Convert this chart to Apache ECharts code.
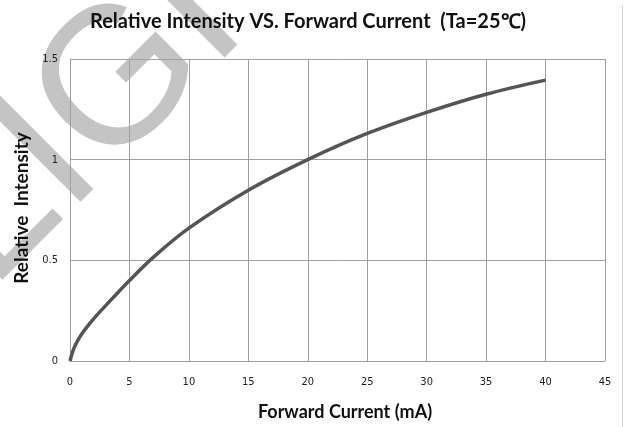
<!DOCTYPE html>
<html>
<head>
<meta charset="utf-8">
<script src="https://cdn.jsdelivr.net/npm/echarts@6/dist/echarts.min.js"></script>
<style>html,body{margin:0;padding:0;background:#fff}#c{width:627px;height:427px}</style>
</head>
<body>
<div id="c"></div>
<script>
const currentMA = [0, 0.25, 0.5, 1, 2, 3, 5, 7, 10, 15, 20, 25, 30, 35, 40];
const relIntensity = [0, 0.05, 0.085, 0.135, 0.21, 0.275, 0.40, 0.515, 0.66, 0.848, 1.0, 1.13, 1.235, 1.325, 1.395];
const titleText = 'Relative Intensity VS. Forward Current  (Ta=25\u2103)';
const xName = 'Forward Current (mA)';
const yName = 'Relative  Intensity';
const watermark = 'LIGHT';

const chart = echarts.init(document.getElementById('c'), null, {renderer: 'canvas'});
const tickFont = {fontFamily: 'DejaVu Sans Condensed', fontSize: 11, color: '#222'};
chart.setOption({
  animation: false,
  backgroundColor: '#fff',
  title: {
    text: titleText, left: 303, top: 7, textAlign: 'center',
    textStyle: {fontFamily: 'Lato', fontWeight: 'bold', fontSize: 20, color: '#111'}
  },
  grid: {left: 70, right: 22, top: 59, bottom: 66, containLabel: false},
  xAxis: {
    type: 'value', min: 0, max: 45, interval: 5,
    name: xName, nameLocation: 'middle', nameGap: 42,
    nameTextStyle: {fontFamily: 'Lato', fontWeight: 'bold', fontSize: 18, color: '#111', padding: [0, 0, 0, 15]},
    axisLine: {show: true, lineStyle: {color: '#a0a0a0', width: 1}},
    axisTick: {show: false},
    axisLabel: Object.assign({margin: 16}, tickFont),
    splitLine: {show: true, lineStyle: {color: '#a0a0a0', width: 1}}
  },
  yAxis: {
    type: 'value', min: 0, max: 1.5, interval: 0.5,
    name: yName, nameLocation: 'middle', nameGap: 36, nameRotate: 90,
    nameTextStyle: {fontFamily: 'Lato', fontWeight: 'bold', fontSize: 19, color: '#111', padding: [0, 0, 0, 4]},
    axisLine: {show: true, lineStyle: {color: '#a0a0a0', width: 1}},
    axisTick: {show: false},
    axisLabel: Object.assign({margin: 12, formatter: v => String(v)}, tickFont),
    splitLine: {show: true, lineStyle: {color: '#a0a0a0', width: 1}}
  },
  series: [{
    type: 'line', smooth: 0.35, symbol: 'none',
    data: currentMA.map((x, i) => [x, relIntensity[i]]),
    lineStyle: {color: '#555', width: 3.5},
    z: 5
  }],
  graphic: [
    {type: 'text', z: -10, silent: true, x: 22, y: 322, rotation: Math.PI / 4,
     style: {text: watermark, font: 'normal 195px "Liberation Sans"', fill: '#c4c4c4', align: 'left', verticalAlign: 'bottom'}},
    {type: 'line', silent: true, shape: {x1: 622.5, y1: 5, x2: 622.5, y2: 427}, style: {stroke: '#d4d4d4', lineWidth: 1}}
  ]
});
</script>
</body>
</html>
